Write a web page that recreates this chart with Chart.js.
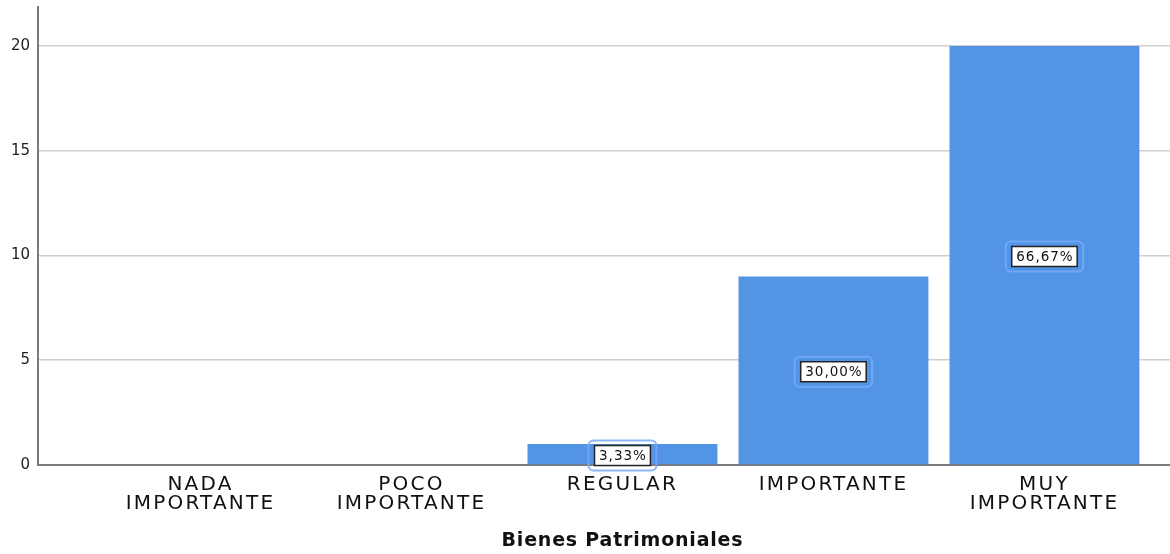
<!DOCTYPE html>
<html>
<head>
<meta charset="utf-8">
<script src="https://cdn.jsdelivr.net/npm/chart.js@4"></script>
<style>
  html, body { margin: 0; padding: 0; background: #fff; }
  #wrap { width: 1170px; height: 554px; position: relative; }
</style>
</head>
<body>
<div id="wrap"><canvas id="chart"></canvas></div>
<script>
// data
const categories = [['NADA', 'IMPORTANTE'], ['POCO', 'IMPORTANTE'], 'REGULAR', 'IMPORTANTE', ['MUY', 'IMPORTANTE']];
const counts = [0, 0, 1, 9, 20];
const pctLabels = ['', '', '3,33%', '30,00%', '66,67%'];
const yTicks = [0, 5, 10, 15, 20];
const axisTitle = 'Bienes Patrimoniales';

const barColor = '#5295e4';

// wider letter spacing on the category labels
const xSpacing = {
    id: 'xSpacing',
    afterLayout(chart) {
        const xs = chart.scales.x;
        if (xs._spaced) return;
        const orig = xs.drawLabels;
        xs.drawLabels = function (area) {
            this.ctx.save();
            this.ctx.letterSpacing = '2.2px';
            orig.call(this, area);
            this.ctx.restore();
        };
        xs._spaced = true;
    }
};

// boxed percentage labels in the middle of each bar
const barLabels = {
    id: 'barLabels',
    afterDatasetsDraw(chart) {
        const ctx = chart.ctx;
        const ys = chart.scales.y;
        const meta = chart.getDatasetMeta(0);
        ctx.save();
        ctx.font = '13.5px "DejaVu Sans"';
        ctx.letterSpacing = '1px';
        ctx.textAlign = 'center';
        ctx.textBaseline = 'middle';
        meta.data.forEach((bar, i) => {
            const txt = pctLabels[i];
            if (!txt) return;
            const cx = bar.x;
            const cy = ys.getPixelForValue(counts[i] / 2) + 1;
            const w = ctx.measureText(txt).width + 8;
            const h = 20;
            // soft outer halo
            ctx.beginPath();
            ctx.roundRect(cx - w / 2 - 6, cy - h / 2 - 5, w + 12, h + 10, 5);
            ctx.strokeStyle = 'rgba(120, 170, 250, 0.85)';
            ctx.lineWidth = 2;
            ctx.stroke();
            // white box
            ctx.fillStyle = '#fff';
            ctx.fillRect(cx - w / 2, cy - h / 2, w, h);
            ctx.strokeStyle = '#222';
            ctx.lineWidth = 1.5;
            ctx.strokeRect(cx - w / 2, cy - h / 2, w, h);
            ctx.fillStyle = '#111';
            ctx.fillText(txt, cx + 0.5, cy + 1);
        });
        ctx.restore();
    },
    afterDraw(chart) {
        const ctx = chart.ctx;
        const xs = chart.scales.x;
        ctx.save();
        ctx.font = 'bold 19px "DejaVu Sans"';
        ctx.letterSpacing = '0.8px';
        ctx.fillStyle = '#111';
        ctx.textAlign = 'center';
        ctx.textBaseline = 'middle';
        ctx.fillText(axisTitle, xs.getPixelForValue((categories.length - 1) / 2), 541);
        ctx.restore();
    }
};

new Chart(document.getElementById('chart'), {
    type: 'bar',
    data: {
        datasets: [{
            data: counts.map((v, i) => ({ x: i, y: v })),
            backgroundColor: barColor,
            borderWidth: 0,
            barPercentage: 0.9,
            categoryPercentage: 1.0
        }]
    },
    options: {
        responsive: true,
        maintainAspectRatio: false,
        animation: false,
        layout: { padding: { top: 7, right: 0, left: 0, bottom: 0 } },
        plugins: {
            legend: { display: false },
            tooltip: { enabled: false }
        },
        scales: {
            x: {
                type: 'linear',
                offset: false,
                min: -0.770,
                max: 4.595,
                afterBuildTicks: (scale) => {
                    scale.ticks = categories.map((c, i) => ({ value: i }));
                },
                afterFit: (scale) => {
                    scale.height = 89;
                    scale.paddingLeft = 0;
                    scale.paddingRight = 0;
                },
                grid: { display: false, drawTicks: false },
                border: { display: true, color: '#7a7a7a', width: 2 },
                ticks: {
                    autoSkip: false,
                    maxRotation: 0,
                    padding: 10,
                    color: '#111',
                    font: { family: '"DejaVu Sans"', size: 20, lineHeight: 0.95 },
                    callback: (value) => categories[value]
                }
            },
            y: {
                min: 0,
                max: 21.86,
                afterBuildTicks: (scale) => {
                    scale.ticks = yTicks.map(v => ({ value: v }));
                },
                afterFit: (scale) => {
                    scale.width = 38;
                    scale.paddingTop = 0;
                    scale.paddingBottom = 0;
                },
                grid: { color: '#cfcfcf', lineWidth: 1.5, drawTicks: false },
                border: { color: '#7a7a7a', width: 2 },
                ticks: {
                    padding: 8,
                    color: '#222',
                    font: { family: '"DejaVu Sans"', size: 15 }
                }
            }
        }
    },
    plugins: [xSpacing, barLabels]
});
</script>
</body>
</html>
